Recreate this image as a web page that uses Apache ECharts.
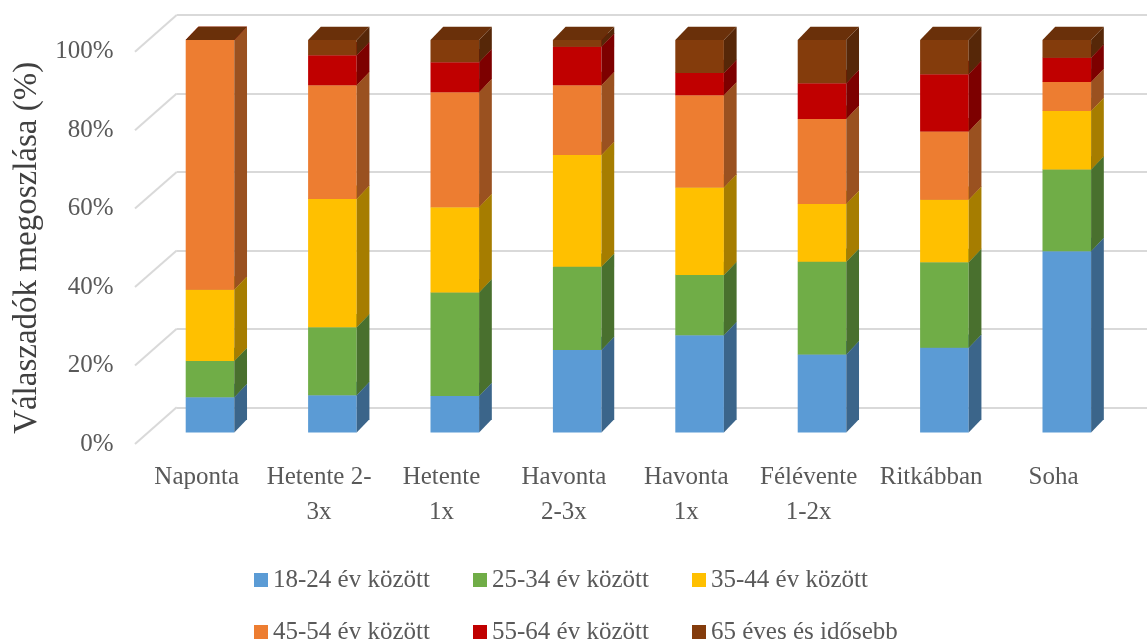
<!DOCTYPE html>
<html>
<head>
<meta charset="utf-8">
<script src="https://cdn.jsdelivr.net/npm/echarts@6/dist/echarts.min.js"></script>
<style>
  html, body { margin: 0; padding: 0; background: #ffffff; }
  #chart { width: 1147px; height: 641px; }
</style>
</head>
<body>
<div id="chart"></div>
<script>
// Frequency categories (x axis)
const categories = ['Naponta', 'Hetente 2-\n3x', 'Hetente\n1x', 'Havonta\n2-3x', 'Havonta\n1x', 'Félévente\n1-2x', 'Ritkábban', 'Soha'];

// Share of respondents by age group (%), one array per group
const age18to24 = [9.0, 9.5, 9.3, 21.0, 24.8, 19.9, 21.6, 46.2];
const age25to34 = [9.2, 17.3, 26.4, 21.2, 15.3, 23.6, 21.8, 20.8];
const age35to44 = [18.2, 32.7, 21.7, 28.5, 22.3, 14.7, 15.9, 14.9];
const age45to54 = [63.6, 29.0, 29.3, 17.8, 23.5, 21.7, 17.4, 7.4];
const age55to64 = [0.0, 7.6, 7.6, 9.8, 5.7, 9.1, 14.6, 6.2];
const age65plus = [0.0, 3.9, 5.7, 1.7, 8.4, 11.0, 8.7, 4.5];

const groupNames = ['18-24 év között', '25-34 év között', '35-44 év között', '45-54 év között', '55-64 év között', '65 éves és idősebb'];
const groupValues = [age18to24, age25to34, age35to44, age45to54, age55to64, age65plus];
const groupColors = ['#5B9BD5', '#70AD47', '#FFC000', '#ED7D31', '#C00000', '#843C0C'];

// Y axis ticks (percent)
const tickValues = [0, 20, 40, 60, 80, 100];

const FONT = '"Liberation Serif", "Times New Roman", serif';

function shade(hex, k) {
  const n = parseInt(hex.slice(1), 16);
  const r = Math.round(((n >> 16) & 255) * k);
  const g = Math.round(((n >> 8) & 255) * k);
  const b = Math.round((n & 255) * k);
  return 'rgb(' + r + ',' + g + ',' + b + ')';
}

// Stack the groups: each datum is [categoryIndex, start, end]
const cumulative = categories.map(() => 0);
const stackedData = groupValues.map(values => values.map((v, i) => {
  const start = cumulative[i];
  cumulative[i] += v;
  return [i, start, cumulative[i]];
}));

// Pseudo-3D column segment: front face, right side face, top face
function makeBarRenderer(seriesIdx, color) {
  const sideColor = shade(color, 0.65);
  const topColor = shade(color, 0.8);
  return function (params, api) {
    const ci = api.value(0);
    const pBottom = api.coord([ci, api.value(1)]);
    const pTop = api.coord([ci, api.value(2)]);
    const band = api.size([1, 0])[0];
    const w = band * 0.397;
    const dx = band * 0.104;
    const dy = band * 0.109;
    const xl = pBottom[0] - w / 2;
    const xr = pBottom[0] + w / 2;
    const yb = pBottom[1];
    const yt = pTop[1];
    const base = seriesIdx * 10;
    return {
      type: 'group',
      children: [
        {
          type: 'rect',
          shape: { x: xl, y: yt, width: w, height: yb - yt },
          style: { fill: color },
          z2: base
        },
        {
          type: 'polygon',
          shape: { points: [[xr, yb], [xr, yt], [xr + dx, yt - dy], [xr + dx, yb - dy]] },
          style: { fill: sideColor },
          z2: base + 1
        },
        {
          type: 'polygon',
          shape: { points: [[xl, yt], [xl + dx, yt - dy], [xr + dx, yt - dy], [xr, yt]] },
          style: { fill: topColor },
          z2: base + 2
        }
      ]
    };
  };
}

// Receding gridline segments joining the label plane to the back wall
function renderDiagonal(params, api) {
  const p = api.coord([0, api.value(1)]);
  return {
    type: 'line',
    shape: { x1: p[0] - 41.7, y1: p[1] + 36.7, x2: p[0], y2: p[1] },
    style: { stroke: '#d9d9d9', lineWidth: 2 }
  };
}

const barSeries = groupNames.map((name, idx) => ({
  name: name,
  type: 'custom',
  xAxisIndex: 0,
  yAxisIndex: 0,
  z: 3,
  itemStyle: { color: groupColors[idx] },
  renderItem: makeBarRenderer(idx, groupColors[idx]),
  data: stackedData[idx]
}));

const chart = echarts.init(document.getElementById('chart'), null, { renderer: 'canvas' });

chart.setOption({
  animation: false,
  backgroundColor: '#ffffff',
  grid: [
    { left: 148.8, right: 19, top: 40, bottom: 208.5 },   // column front faces
    { left: 176.7, right: 0, top: 15, bottom: 233.7 },    // back wall
    { left: 135.5, right: 32.3, top: 51.7, bottom: 197 }  // axis label plane
  ],
  xAxis: [
    { type: 'category', gridIndex: 0, data: categories, show: false },
    { type: 'value', gridIndex: 1, min: 0, max: 1, show: false },
    {
      type: 'category', gridIndex: 2, data: categories,
      axisLine: { show: false }, axisTick: { show: false },
      axisLabel: {
        interval: 0, margin: 16, fontFamily: FONT, fontSize: 25,
        lineHeight: 35, color: '#595959', align: 'center'
      }
    }
  ],
  yAxis: [
    { type: 'value', gridIndex: 0, min: 0, max: 100, show: false },
    {
      type: 'value', gridIndex: 1, min: 0, max: 100, interval: 20,
      axisLine: { show: false }, axisTick: { show: false }, axisLabel: { show: false },
      splitLine: { show: true, lineStyle: { color: '#d9d9d9', width: 2 } }
    },
    {
      type: 'value', gridIndex: 2, min: 0, max: 100, interval: 20,
      axisLine: { show: false }, axisTick: { show: false },
      splitLine: { show: false },
      axisLabel: {
        formatter: '{value}%', margin: 22, fontFamily: FONT, fontSize: 25, color: '#595959'
      },
      name: 'Válaszadók megoszlása (%)',
      nameLocation: 'middle',
      nameRotate: 90,
      nameGap: 90,
      nameTextStyle: { fontFamily: FONT, fontSize: 33, color: '#404040' }
    }
  ],
  legend: [
    {
      data: groupNames.slice(0, 3), left: 249, top: 562,
      icon: 'rect', itemWidth: 14, itemHeight: 14, itemGap: 0,
      textStyle: { fontFamily: FONT, fontSize: 25, color: '#595959', width: 200, lineHeight: 26 }
    },
    {
      data: groupNames.slice(3), left: 249, top: 614,
      icon: 'rect', itemWidth: 14, itemHeight: 14, itemGap: 0,
      textStyle: { fontFamily: FONT, fontSize: 25, color: '#595959', width: 200, lineHeight: 26 }
    }
  ],
  series: [
    {
      type: 'custom',
      xAxisIndex: 1,
      yAxisIndex: 1,
      z: 1,
      silent: true,
      renderItem: renderDiagonal,
      data: tickValues.map(v => [0, v])
    }
  ].concat(barSeries)
});
</script>
</body>
</html>
